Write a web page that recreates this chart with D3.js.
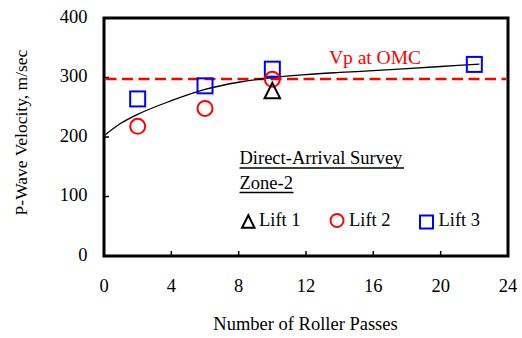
<!DOCTYPE html>
<html>
<head>
<meta charset="utf-8">
<script src="https://cdn.jsdelivr.net/npm/d3@7"></script>
<style>
  body { margin: 0; background: #fff; }
  text { font-family: "Liberation Serif", "Times New Roman", serif; }
</style>
</head>
<body>
<div id="vis"></div>
<script>
// data
const lift1 = [{x: 10, y: 278}];
const lift2 = [{x: 2, y: 218}, {x: 6, y: 248}, {x: 10, y: 297}];
const lift3 = [{x: 2, y: 264}, {x: 6, y: 286}, {x: 10, y: 314}, {x: 22, y: 322}];
// fitted trend curve, traced point by point
const trendX = [0, 1, 2, 4, 6, 8, 10, 12, 14, 16, 18, 20, 22.3];
const trendY = [202, 223, 238, 261, 280, 292, 300, 305, 308.5, 311.5, 315, 318.5, 322.5];
const vpOMC = 297.5;
const xTicks = [0, 4, 8, 12, 16, 20, 24];
const yTicks = [0, 100, 200, 300, 400];

const svg = d3.select("#vis")
    .append("svg")
    .attr("width", 522)
    .attr("height", 338);

const x = d3.scaleLinear().domain([0, 24]).range([104, 508]);
const y = d3.scaleLinear().domain([0, 400]).range([256, 18]);

// frame
svg.append("rect")
    .attr("x", x(0))
    .attr("y", y(400))
    .attr("width", x(24) - x(0))
    .attr("height", y(0) - y(400))
    .attr("fill", "none")
    .attr("stroke", "#000")
    .attr("stroke-width", 3);

// ticks (inside the frame)
svg.append("g").selectAll("line")
    .data(xTicks.slice(1, -1))
    .enter().append("line")
    .attr("x1", d => x(d)).attr("x2", d => x(d))
    .attr("y1", y(0)).attr("y2", y(0) - 5)
    .attr("stroke", "#000").attr("stroke-width", 1.5);

svg.append("g").selectAll("line")
    .data(yTicks.slice(1, -1))
    .enter().append("line")
    .attr("x1", x(0)).attr("x2", x(0) + 5)
    .attr("y1", d => y(d)).attr("y2", d => y(d))
    .attr("stroke", "#000").attr("stroke-width", 1.5);

// tick labels
svg.append("g").selectAll("text")
    .data(xTicks)
    .enter().append("text")
    .attr("x", d => x(d))
    .attr("y", 291.5)
    .attr("text-anchor", "middle")
    .attr("font-size", 18.5)
    .text(d => d);

svg.append("g").selectAll("text")
    .data(yTicks)
    .enter().append("text")
    .attr("x", 87.5)
    .attr("y", d => y(d) + 4.5)
    .attr("text-anchor", "end")
    .attr("font-size", 18.5)
    .text(d => d);

// axis titles
svg.append("text")
    .attr("x", 305.5)
    .attr("y", 330)
    .attr("text-anchor", "middle")
    .attr("font-size", 18.5)
    .text("Number of Roller Passes");

svg.append("text")
    .attr("transform", "translate(27,132.5) rotate(-90)")
    .attr("text-anchor", "middle")
    .attr("font-size", 17.5)
    .text("P-Wave Velocity, m/sec");

// Vp at OMC
svg.append("line")
    .attr("x1", x(0) + 1.5).attr("x2", x(24) - 1.5)
    .attr("y1", y(vpOMC)).attr("y2", y(vpOMC))
    .attr("stroke", "#ff0000")
    .attr("stroke-width", 2.5)
    .attr("stroke-dasharray", "11,5.5");

svg.append("text")
    .attr("x", 375)
    .attr("y", 64)
    .attr("text-anchor", "middle")
    .attr("font-size", 19.5)
    .attr("fill", "#ff0000")
    .text("Vp at OMC");

// trend curve
const line = d3.line()
    .x(d => x(d[0]))
    .y(d => y(d[1]))
    .curve(d3.curveMonotoneX);

svg.append("path")
    .datum(trendX.map((v, i) => [v, trendY[i]]))
    .attr("d", line)
    .attr("fill", "none")
    .attr("stroke", "#000")
    .attr("stroke-width", 1.3);

// markers
function triangle(g, cx, cy, s) {
    g.append("path")
        .attr("d", `M${cx},${cy - s / 2}L${cx + s / 2},${cy + s / 2}L${cx - s / 2},${cy + s / 2}Z`)
        .attr("fill", "none")
        .attr("stroke", "#000")
        .attr("stroke-width", 2);
}

const marks = svg.append("g");

lift3.forEach(d => {
    marks.append("rect")
        .attr("x", x(d.x) - 7.5).attr("y", y(d.y) - 7.5)
        .attr("width", 15).attr("height", 15)
        .attr("fill", "none")
        .attr("stroke", "#0000ff")
        .attr("stroke-width", 2);
});

lift2.forEach(d => {
    marks.append("circle")
        .attr("cx", x(d.x)).attr("cy", y(d.y))
        .attr("r", 7.5)
        .attr("fill", "none")
        .attr("stroke", "#ff0000")
        .attr("stroke-width", 2);
});

lift1.forEach(d => triangle(marks, x(d.x), y(d.y), 15.5));

// legend
const legend = svg.append("g");

legend.append("text")
    .attr("x", 239.5).attr("y", 164)
    .attr("font-size", 18.5)
    .text("Direct-Arrival Survey");
legend.append("line")
    .attr("x1", 239.5).attr("x2", 404)
    .attr("y1", 168).attr("y2", 168)
    .attr("stroke", "#000").attr("stroke-width", 1.3);

legend.append("text")
    .attr("x", 239.5).attr("y", 188.5)
    .attr("font-size", 18.5)
    .text("Zone-2");
legend.append("line")
    .attr("x1", 239.5).attr("x2", 293.5)
    .attr("y1", 192.5).attr("y2", 192.5)
    .attr("stroke", "#000").attr("stroke-width", 1.3);

triangle(legend, 248.3, 221.5, 12.5);
legend.append("circle")
    .attr("cx", 337).attr("cy", 220.5).attr("r", 6.5)
    .attr("fill", "none").attr("stroke", "#ff0000").attr("stroke-width", 2);
legend.append("rect")
    .attr("x", 420).attr("y", 215.5).attr("width", 13).attr("height", 13)
    .attr("fill", "none").attr("stroke", "#0000ff").attr("stroke-width", 2);

const legendLabels = ["Lift 1", "Lift 2", "Lift 3"];
const legendX = [259, 349, 438.5];
legend.selectAll("text.item")
    .data(legendLabels)
    .enter().append("text")
    .attr("class", "item")
    .attr("x", (d, i) => legendX[i])
    .attr("y", 226)
    .attr("font-size", 18.5)
    .text(d => d);
</script>
</body>
</html>
